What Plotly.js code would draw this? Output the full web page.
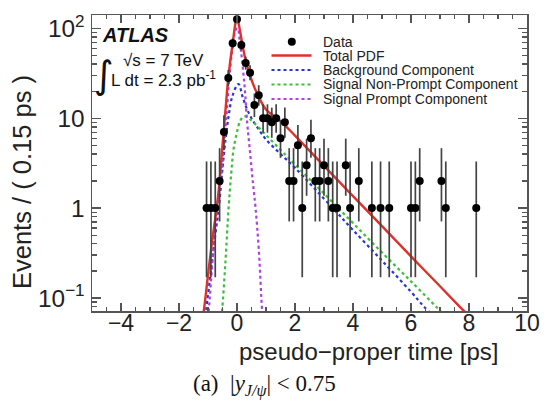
<!DOCTYPE html>
<html>
<head>
<meta charset="utf-8">
<script src="https://cdn.plot.ly/plotly-3.0.1.min.js"></script>
<style>html,body{margin:0;padding:0;background:#fff;}#chart{width:549px;height:403px;}</style>
</head>
<body>
<div id="chart"></div>
<script>
// ---- Data ----
const dataX = [-1.05,-0.9,-0.75,-0.6,-0.45,-0.3,-0.15,0.0,0.15,0.3,0.45,0.6,0.75,0.9,1.05,1.2,1.35,1.5,1.65,1.8,1.95,2.1,2.25,2.4,2.55,2.7,2.85,3.0,3.15,3.3,3.45,3.75,3.9,4.2,4.65,4.95,5.25,6.0,6.15,6.3,7.05,7.2,8.25];
const dataY = [1,1,1,2,7,28,68,126,65,41,32,14,18,10,10,9,10,6,9,2,2,5,1,3,6,2,2,3,2,1,1,3,1,2,1,1,1,1,1,2,2,1,1];
const errPlus = [2.30,2.30,2.30,2.64,3.77,6.32,9.28,12.24,9.09,7.45,6.71,4.83,5.30,4.27,4.27,4.11,4.27,3.58,4.11,2.64,2.64,3.38,2.30,2.92,3.58,2.64,2.64,2.92,2.64,2.30,2.30,2.92,2.30,2.64,2.30,2.30,2.30,2.30,2.30,2.64,2.64,2.30,2.30];
const errMinus = [0.83,0.83,0.83,1.29,2.58,5.27,8.23,11.23,8.05,6.38,5.62,3.70,4.22,3.11,3.11,2.94,3.11,2.38,2.94,1.29,1.29,2.16,0.83,1.63,2.38,1.29,1.29,1.63,1.29,0.83,0.83,1.63,0.83,1.29,0.83,0.83,0.83,0.83,0.83,1.29,1.29,0.83,0.83];

const totalX = [-1.25,-1.15,-1.0,-0.85,-0.7,-0.6,-0.5,-0.4,-0.3,-0.15,0.0,0.1,0.2,0.3,0.45,0.6,0.8,1.0,1.5,2.0,3.0,4.0,5.0,6.0,7.0,7.6,8.0];
const totalY = [0.045,0.07,0.18,0.45,1.0,2.0,5.0,12,28,68,132,95,62,44,30,22,16,12.5,9.3,6.4,2.95,1.36,0.63,0.29,0.135,0.085,0.063];

const bkgX = [-1.15,-1.07,-0.9,-0.75,-0.63,-0.45,-0.3,-0.15,0.05,0.2,0.35,0.5,0.75,1.0,1.5,2.0,3.3,4.0,5.0,6.0,6.45,6.8];
const bkgY = [0.04,0.07,0.2,0.5,1.0,4.0,10,18,24,17,12.5,10,7.5,5.8,4.0,2.8,1.0,0.57,0.26,0.117,0.08,0.062];

const npX = [-0.6,-0.52,-0.4,-0.29,-0.2,-0.12,0.0,0.12,0.25,0.4,0.6,1.0,1.5,2.0,3.0,4.0,5.0,6.0,6.9,7.2];
const npY = [0.045,0.07,0.25,1.0,2.4,4.5,7,9.5,10.5,10,8.8,6.5,4.45,3.05,1.45,0.68,0.32,0.153,0.078,0.062];

const prX = [-1.05,-0.98,-0.82,-0.69,-0.55,-0.45,-0.35,-0.27,-0.15,-0.05,0.02,0.1,0.25,0.35,0.44,0.55,0.64,0.75,0.87,0.93];
const prY = [0.045,0.07,0.33,1.0,2.3,5,12,27,62,95,100,70,25,9,4.5,1.9,1.0,0.35,0.07,0.045];

const legendLabels = ['Data','Total PDF','Background Component','Signal Non-Prompt Component','Signal Prompt Component'];

// ---- Styles ----
const cRed = '#e0302c', cBlue = '#2a35d0', cGreen = '#3cbf3c', cPurple = '#b040e0';
const FONT = 'Liberation Sans, Arial, Helvetica, sans-serif';

// plot area in pixels
const L = 92, R = 527, T = 15, B = 311;
const px = v => (v - L) / (R - L);
const py = v => (B - v) / (B - T);

const traces = [
  {x: bkgX, y: bkgY, mode: 'lines', line: {color: cBlue, width: 2.2, dash: 'dot', shape: 'spline'}, hoverinfo: 'skip'},
  {x: npX, y: npY, mode: 'lines', line: {color: cGreen, width: 2.2, dash: 'dot', shape: 'spline'}, hoverinfo: 'skip'},
  {x: prX, y: prY, mode: 'lines', line: {color: cPurple, width: 2.2, dash: 'dot', shape: 'spline'}, hoverinfo: 'skip'},
  {x: totalX, y: totalY, mode: 'lines', line: {color: cRed, width: 2.4, shape: 'spline'}, hoverinfo: 'skip'},
  {x: dataX, y: dataY, mode: 'markers', marker: {color: '#000', size: 8},
   error_y: {type: 'data', symmetric: false, array: errPlus, arrayminus: errMinus, color: '#444', thickness: 1.7, width: 0},
   cliponaxis: true}
];

// legend built by hand (ROOT style compact legend)
const legRows = [41.7, 55.5, 70, 84.5, 99];
const legStyles = [null, {color: cRed, dash: 'solid', width: 2.4}, {color: cBlue, dash: 'dot', width: 2.2}, {color: cGreen, dash: 'dot', width: 2.2}, {color: cPurple, dash: 'dot', width: 2.2}];
const shapes = [];
const annotations = [];
legendLabels.forEach((lab, i) => {
  const yy = py(legRows[i]);
  if (i === 0) {
    shapes.push({type: 'circle', xref: 'paper', yref: 'paper', x0: px(287.8), x1: px(295.8), y0: py(legRows[i] + 4), y1: py(legRows[i] - 4), fillcolor: '#000', line: {width: 0}});
  } else {
    shapes.push({type: 'line', xref: 'paper', yref: 'paper', x0: px(271.5), x1: px(311.5), y0: yy, y1: yy, line: legStyles[i]});
  }
  annotations.push({xref: 'paper', yref: 'paper', x: px(321), y: yy, xanchor: 'left', yanchor: 'middle', text: lab, showarrow: false, font: {family: FONT, size: 14, color: '#222'}});
});

annotations.push(
  {xref: 'paper', yref: 'paper', x: px(100), y: py(35), xanchor: 'left', yanchor: 'middle', text: '<b><i>ATLAS</i></b>', showarrow: false, font: {family: FONT, size: 20, color: '#111'}},
  {xref: 'paper', yref: 'paper', x: px(104), y: py(75), xanchor: 'center', yanchor: 'middle', text: '∫', showarrow: false, font: {family: 'DejaVu Sans', size: 38, color: '#111'}},
  {xref: 'paper', yref: 'paper', x: px(121), y: py(61), xanchor: 'left', yanchor: 'middle', text: '√s = 7 TeV', showarrow: false, font: {family: FONT, size: 17, color: '#111'}},
  {xref: 'paper', yref: 'paper', x: px(109), y: py(79.5), xanchor: 'left', yanchor: 'middle', text: 'L dt = 2.3 pb<sup>-1</sup>', showarrow: false, font: {family: FONT, size: 17, color: '#111'}},
  {xref: 'paper', yref: 'paper', x: px(501), y: py(351), xanchor: 'right', yanchor: 'middle', text: 'pseudo\u2212proper time [ps]', showarrow: false, font: {family: FONT, size: 24, color: '#222'}},
  {xref: 'paper', yref: 'paper', x: px(22), y: py(182), xanchor: 'center', yanchor: 'middle', textangle: -90, text: 'Events / ( 0.15 ps )', showarrow: false, font: {family: FONT, size: 25.5, color: '#222'}},
  {xref: 'paper', yref: 'paper', x: px(264), y: py(385), xanchor: 'center', yanchor: 'middle', text: '(a)\u00a0\u00a0|<i>y</i><sub><i>J/ψ</i></sub>| &lt; 0.75', showarrow: false, font: {family: 'Liberation Serif, Times New Roman, serif', size: 23, color: '#111'}}
);

const axisCommon = {
  showline: true, linecolor: '#555', linewidth: 1.5, mirror: 'ticks',
  ticks: 'inside', tickcolor: '#555', tickwidth: 1.2,
  showgrid: false, zeroline: false,
  tickfont: {family: FONT, size: 23, color: '#222'}
};

const layout = {
  width: 549, height: 403,
  margin: {l: L, r: 549 - R, t: T, b: 403 - B},
  paper_bgcolor: '#fff', plot_bgcolor: '#fff',
  showlegend: false,
  xaxis: Object.assign({}, axisCommon, {
    range: [-5, 10], tickmode: 'linear', tick0: 0, dtick: 2, ticklen: 8,
    ticklabelstandoff: -9,
    minor: {ticks: 'inside', dtick: 0.5, tick0: 0, ticklen: 4, tickcolor: '#555', tickwidth: 1.2, showgrid: false}
  }),
  yaxis: Object.assign({}, axisCommon, {
    type: 'log', range: [-1.145, 2.148], tickmode: 'linear', tick0: 0, dtick: 1, ticklen: 9,
    exponentformat: 'power',
    ticklabelstandoff: 2,
    tickfont: {family: FONT, size: 19.5, color: '#222'},
    minor: {ticks: 'inside', dtick: 'D1', ticklen: 5, tickcolor: '#555', tickwidth: 1.2, showgrid: false}
  }),
  shapes: shapes,
  annotations: annotations
};

Plotly.newPlot('chart', traces, layout, {staticPlot: true, displayModeBar: false});
</script>
</body>
</html>
